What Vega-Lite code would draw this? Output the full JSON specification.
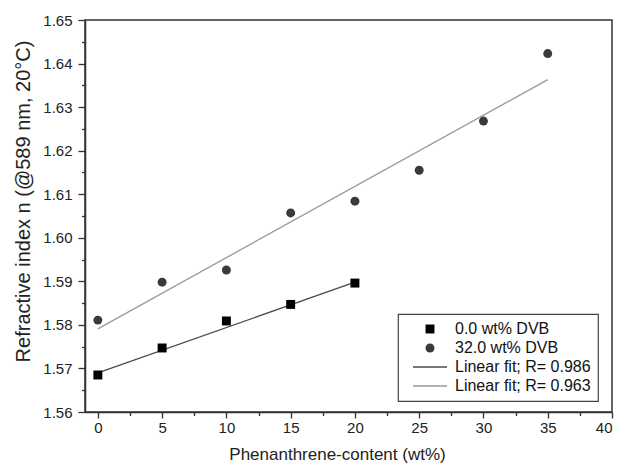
{
  "$schema": "https://vega.github.io/schema/vega-lite/v6.json",
  "width": 527,
  "height": 392,
  "autosize": {"type": "none"},
  "padding": {"left": 85, "top": 20, "right": 10, "bottom": 60},
  "background": "white",
  "config": {
    "font": "Liberation Sans",
    "view": {"stroke": "#333", "strokeWidth": 1.5},
    "axis": {
      "domainColor": "#333", "domainWidth": 1.5, "tickColor": "#333", "tickWidth": 1.3,
      "labelColor": "#222", "titleColor": "#222", "labelFontSize": 15, "titleFontSize": 17,
      "titleFontWeight": "normal", "grid": false
    },
    "legend": {
      "orient": "none", "legendX": 313, "legendY": 294, "strokeColor": "#444", "strokeWidth": 1.2,
      "padding": 7, "labelFontSize": 16, "labelColor": "#111", "symbolOffset": 17, "labelOffset": 17,
      "rowPadding": 3, "symbolSize": 80, "symbolOpacity": 1, "symbolStrokeWidth": 0, "fillColor": "white"
    }
  },
  "datasets": {
    "points": [
      {"series": "0.0 wt% DVB", "x": 0, "n": 1.5685},
      {"series": "0.0 wt% DVB", "x": 5, "n": 1.5747},
      {"series": "0.0 wt% DVB", "x": 10, "n": 1.5809},
      {"series": "0.0 wt% DVB", "x": 15, "n": 1.5847},
      {"series": "0.0 wt% DVB", "x": 20, "n": 1.5896},
      {"series": "32.0 wt% DVB", "x": 0, "n": 1.5811},
      {"series": "32.0 wt% DVB", "x": 5, "n": 1.5898},
      {"series": "32.0 wt% DVB", "x": 10, "n": 1.5926},
      {"series": "32.0 wt% DVB", "x": 15, "n": 1.6057},
      {"series": "32.0 wt% DVB", "x": 20, "n": 1.6084},
      {"series": "32.0 wt% DVB", "x": 25, "n": 1.6155},
      {"series": "32.0 wt% DVB", "x": 30, "n": 1.6268},
      {"series": "32.0 wt% DVB", "x": 35, "n": 1.6423}
    ],
    "fits": [
      {"series": "Linear fit; R= 0.986", "x": 0, "n": 1.5690},
      {"series": "Linear fit; R= 0.986", "x": 20, "n": 1.5898},
      {"series": "Linear fit; R= 0.963", "x": 0, "n": 1.5791},
      {"series": "Linear fit; R= 0.963", "x": 35, "n": 1.6363}
    ]
  },
  "layer": [
    {
      "data": {"name": "fits"},
      "mark": {"type": "line", "strokeWidth": 1.3},
      "encoding": {
        "x": {"field": "x", "type": "quantitative", "scale": {"domain": [-1, 40], "nice": false, "zero": false},
          "axis": {"orient": "bottom", "values": [2.5, 7.5, 12.5, 17.5, 22.5, 27.5, 32.5, 37.5], "tickSize": 3.5, "labels": false, "domain": false, "title": null}},
        "y": {"field": "n", "type": "quantitative", "scale": {"domain": [1.56, 1.65], "nice": false, "zero": false},
          "axis": {"orient": "left", "values": [1.565, 1.575, 1.585, 1.595, 1.605, 1.615, 1.625, 1.635, 1.645], "tickSize": 3.5, "labels": false, "domain": false, "title": null}},
        "stroke": {"field": "series", "type": "nominal", "legend": null,
          "scale": {"domain": ["Linear fit; R= 0.986", "Linear fit; R= 0.963"], "range": ["#4a4a4a", "#999999"]}},
        "detail": {"field": "series"}
      }
    },
    {
      "data": {"name": "points"},
      "mark": {"type": "point", "filled": true, "opacity": 1, "size": 80},
      "encoding": {
        "x": {"field": "x", "type": "quantitative",
          "axis": {"orient": "bottom", "values": [0, 5, 10, 15, 20, 25, 30, 35, 40], "tickSize": 6, "labelPadding": 2, "title": "Phenanthrene-content (wt%)", "titlePadding": 11, "titleX": 252}},
        "y": {"field": "n", "type": "quantitative",
          "axis": {"orient": "left", "values": [1.56, 1.57, 1.58, 1.59, 1.6, 1.61, 1.62, 1.63, 1.64, 1.65], "format": ".2f", "tickSize": 7, "labelPadding": 6, "title": "Refractive index n (@589 nm, 20°C)", "titlePadding": 9, "titleFontSize": 20, "titleY": 181}},
        "color": {"field": "series", "type": "nominal", "title": null,
          "scale": {"domain": ["0.0 wt% DVB", "32.0 wt% DVB", "Linear fit; R= 0.986", "Linear fit; R= 0.963"], "range": ["#000000", "#3a3a3a", "#4a4a4a", "#999999"]}},
        "shape": {"field": "series", "type": "nominal", "title": null,
          "scale": {"domain": ["0.0 wt% DVB", "32.0 wt% DVB", "Linear fit; R= 0.986", "Linear fit; R= 0.963"],
            "range": ["square", "circle", "M-3.8,-0.15H3.8V0.15H-3.8Z", "M-3.8,-0.15H3.8V0.15H-3.8Z"]}}
      }
    }
  ],
  "resolve": {"axis": {"x": "independent", "y": "independent"}}
}
